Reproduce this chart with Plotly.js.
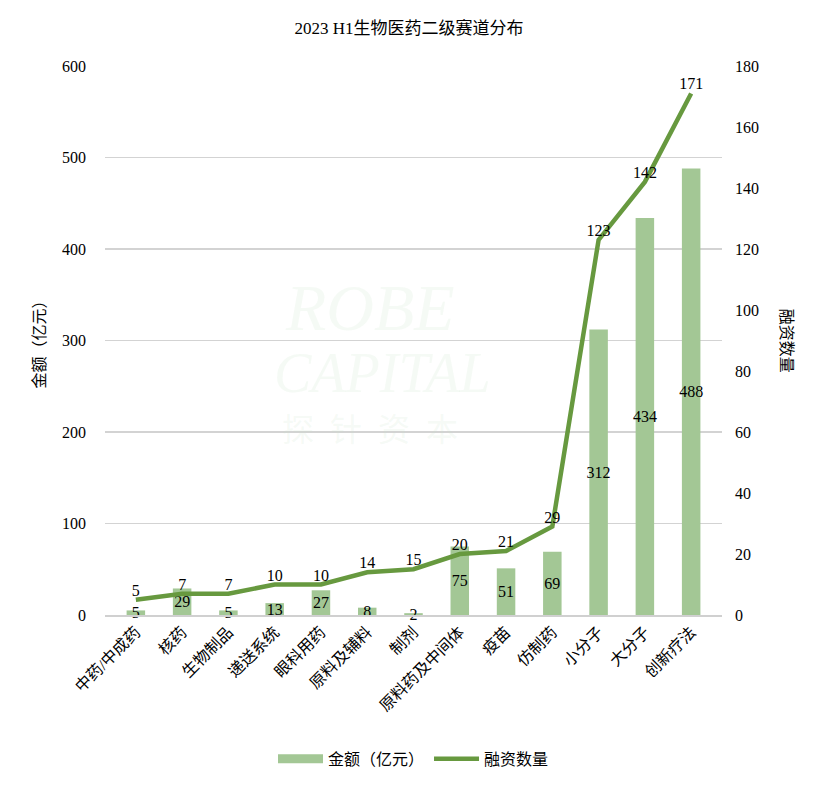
<!DOCTYPE html>
<html>
<head>
<meta charset="utf-8">
<script src="https://cdn.plot.ly/plotly-3.0.1.min.js"></script>
<style>html,body{margin:0;padding:0;background:#fff;}#chart{width:818px;height:788px;}</style>
</head>
<body>
<div id="chart"></div>
<script>
const categories = ['中药/中成药','核药','生物制品','递送系统','眼科用药','原料及辅料','制剂','原料药及中间体','疫苗','仿制药','小分子','大分子','创新疗法'];
const amounts = [5, 29, 5, 13, 27, 8, 2, 75, 51, 69, 312, 434, 488];
const counts = [5, 7, 7, 10, 10, 14, 15, 20, 21, 29, 123, 142, 171];
const leftTicks = [0, 100, 200, 300, 400, 500, 600];
const rightTicks = [0, 20, 40, 60, 80, 100, 120, 140, 160, 180];

const FONT = 'Liberation Serif, "Noto Sans CJK SC", serif';
const barColor = '#a3c795';
const lineColor = '#67993f';

const traces = [
  {
    type: 'bar', name: '金额（亿元）', x: categories, y: amounts,
    marker: {color: barColor}, width: 0.4, showlegend: false,
    text: amounts.map(String), textposition: 'inside', insidetextanchor: 'middle',
    textangle: 0, constraintext: 'none', textfont: {family: FONT, size: 16, color: '#000'},
    hoverinfo: 'none', cliponaxis: false
  },
  {
    type: 'scatter', mode: 'lines', name: '金额（亿元）', x: [null], y: [null],
    line: {color: barColor, width: 9}, hoverinfo: 'none', showlegend: true
  },
  {
    type: 'scatter', mode: 'lines+text', name: '融资数量', x: categories, y: counts, yaxis: 'y2',
    line: {color: lineColor, width: 4.5},
    text: counts.map(String), textposition: 'top center',
    textfont: {family: FONT, size: 16, color: '#000'},
    hoverinfo: 'none', cliponaxis: false
  }
];

const layout = {
  width: 818, height: 788,
  margin: {l: 105, r: 96, t: 66, b: 173},
  paper_bgcolor: '#fff', plot_bgcolor: '#fff',
  font: {family: FONT, size: 16, color: '#000'},
  title: {text: '2023 H1生物医药二级赛道分布', x: 0.5, xanchor: 'center', y: 0.965, yanchor: 'middle', font: {family: FONT, size: 17, color: '#000'}},
  showlegend: true,
  legend: {orientation: 'h', x: 0.5, xanchor: 'center', y: -0.262, yanchor: 'middle', font: {family: FONT, size: 16}, traceorder: 'normal', itemwidth: 45},
  bargap: 0.6,
  xaxis: {
    tickangle: -45, tickfont: {family: FONT, size: 16}, showgrid: false,
    showline: true, linecolor: '#d0d0d0', linewidth: 1.5, ticks: '', zeroline: false
  },
  yaxis: {
    range: [0, 600], tickvals: leftTicks, showgrid: true, gridcolor: '#d3d3d3', gridwidth: 1.5,
    zeroline: false, showline: false, ticks: '', tickfont: {family: FONT, size: 16},
    ticklabelstandoff: 18,
    title: {text: '金额（亿元）', font: {family: FONT, size: 16}, standoff: 12}
  },
  yaxis2: {
    range: [0, 180], tickvals: rightTicks, overlaying: 'y', side: 'right', showgrid: false,
    zeroline: false, showline: false, ticks: '', tickfont: {family: FONT, size: 16},
    ticklabelstandoff: 12
  },
  annotations: [
    {text: '融资数量', xref: 'paper', yref: 'paper', x: 1.105, y: 0.5, showarrow: false, textangle: 90, font: {family: FONT, size: 16, color: '#000'}, xanchor: 'center', yanchor: 'middle'},
    {text: '<i>ROBE</i>', xref: 'paper', yref: 'paper', x: 0.43, y: 0.56, showarrow: false, font: {family: FONT, size: 66, color: 'rgba(200,225,200,0.18)'}},
    {text: '<i>CAPITAL</i>', xref: 'paper', yref: 'paper', x: 0.45, y: 0.44, showarrow: false, font: {family: FONT, size: 56, color: 'rgba(200,225,200,0.18)'}},
    {text: '探  针  资  本', xref: 'paper', yref: 'paper', x: 0.43, y: 0.3, showarrow: false, font: {family: FONT, size: 32, color: 'rgba(200,225,200,0.18)'}}
  ]
};

Plotly.newPlot('chart', traces, layout, {displayModeBar: false, staticPlot: true});
</script>
</body>
</html>
